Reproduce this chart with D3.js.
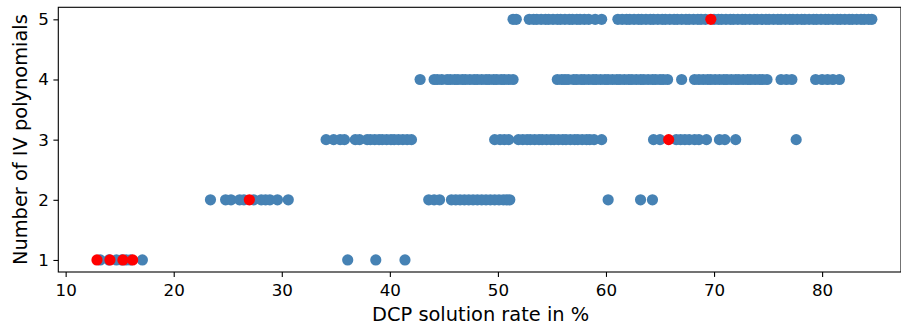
<!DOCTYPE html>
<html>
<head>
<meta charset="utf-8">
<script src="https://cdn.jsdelivr.net/npm/d3@7"></script>
<style>
  body { margin: 0; background: #fff; }
  text { font-family: "DejaVu Sans", sans-serif; fill: #000; }
</style>
</head>
<body>
<div id="chart"></div>
<script>
// DCP solution rate (%) per number of IV polynomials
var rates1 = [13.2, 14.0, 14.7, 15.2, 15.6, 16.0, 17.1, 36.1, 38.7, 41.4];
var rates2 = [23.4, 24.8, 25.3, 26.1, 26.5, 27.4, 28.1, 28.5, 28.9, 29.6, 30.6,
  43.6, 44.1, 44.6, 45.7, 46.1, 46.5, 46.9, 47.3, 47.7, 48.1, 48.5, 48.9, 49.3, 49.7, 50.1, 50.5, 50.8, 51.1,
  60.2, 63.2, 64.3];
var rates3 = [34.1, 34.8, 35.4, 35.8, 36.8, 37.2, 37.9, 38.2, 38.6, 39.0, 39.3, 39.7, 40.1, 40.4, 40.8, 41.2, 41.6, 42.0,
  49.7, 50.2, 50.6, 51.0, 51.9, 52.3, 52.7, 53.0, 53.4, 53.8, 54.1, 54.5, 54.9, 55.2, 55.6, 56.0, 56.3, 56.7,
  57.1, 57.4, 57.8, 58.2, 58.5, 58.9, 59.6,
  64.4, 65.0, 66.5, 66.9, 67.3, 67.7, 68.2, 68.6, 69.3, 70.5, 71.0, 72.0, 77.6];
var rates4 = [42.8, 44.1, 44.4, 44.8, 45.3, 45.6, 46.0, 46.3, 46.7, 47.0, 47.4, 47.8, 48.1, 48.5, 48.9, 49.2, 49.6,
  49.9, 50.3, 50.6, 51.0, 51.4,
  55.5, 55.9, 56.2, 56.5, 57.0, 57.3, 57.7, 58.0, 58.4, 58.8, 59.1, 59.5, 59.9, 60.2, 60.6, 61.0, 61.3, 61.7,
  62.1, 62.4, 62.8, 63.2, 63.5, 63.9, 64.3, 64.6, 65.0, 65.3, 65.7, 67.0,
  68.2, 68.6, 69.0, 69.4, 69.7, 70.1, 70.5, 70.9, 71.2, 71.6, 72.0, 72.3, 72.7, 73.1, 73.4, 73.8, 74.2, 74.5, 74.9,
  76.2, 76.7, 77.2, 79.4, 80.0, 80.5, 81.0, 81.6];
var rates5 = [51.4, 51.7, 52.9, 53.3, 53.6, 54.0, 54.4, 54.7, 55.1, 55.5, 55.8, 56.2, 56.6, 56.9, 57.3, 57.6, 58.0,
  58.4, 59.0, 59.6,
  61.1, 61.5, 61.9, 62.2, 62.6, 63.0, 63.3, 63.7, 64.1, 64.4, 64.8, 65.2, 65.5, 65.9, 66.3, 66.6, 67.0, 67.4,
  67.7, 68.1, 68.5, 68.8, 69.2, 70.0, 70.4, 70.7, 71.1, 71.5, 71.8, 72.2, 72.6, 72.9, 73.3, 73.7, 74.0, 74.4,
  74.8, 75.1, 75.5, 75.9, 76.2, 76.6, 77.0, 77.3, 77.7, 78.1, 78.4, 78.8, 79.2, 79.5, 79.9, 80.3, 80.6, 81.0,
  81.4, 81.7, 82.1, 82.5, 82.8, 83.2, 83.6, 83.9, 84.3, 84.6];

// highlighted points (red)
var redRates = [12.9, 14.1, 15.3, 16.2, 27.0, 65.8, 69.7];
var redCounts = [1, 1, 1, 1, 2, 3, 5];

var xTicks = [10, 20, 30, 40, 50, 60, 70, 80];
var yTicks = [1, 2, 3, 4, 5];

var svgWidth = 901;
var svgHeight = 327;

var margin = { top: 7.3, right: 0, bottom: 55, left: 58.3 };
var width = svgWidth - margin.left - margin.right;
var height = svgHeight - margin.top - margin.bottom;

var svg = d3.select("#chart")
  .append("svg")
  .attr("width", svgWidth)
  .attr("height", svgHeight);

var chartGroup = svg.append("g")
  .attr("transform", `translate(${margin.left}, ${margin.top})`);

var xScale = d3.scaleLinear().domain([9.32, 87.3]).range([0, width]);
var yScale = d3.scaleLinear().domain([0.8, 5.2]).range([height, 0]);

// blue points from the rows
var bluePoints = [];
[rates1, rates2, rates3, rates4, rates5].forEach(function(row, i) {
  row.forEach(function(r) { bluePoints.push({ x: r, y: i + 1 }); });
});
var redPoints = redRates.map(function(r, i) { return { x: r, y: redCounts[i] }; });

chartGroup.selectAll(".blue")
  .data(bluePoints)
  .enter()
  .append("circle")
  .attr("class", "blue")
  .attr("cx", d => xScale(d.x))
  .attr("cy", d => yScale(d.y))
  .attr("r", 5.6)
  .attr("fill", "#4682b4");

chartGroup.selectAll(".red")
  .data(redPoints)
  .enter()
  .append("circle")
  .attr("class", "red")
  .attr("cx", d => xScale(d.x))
  .attr("cy", d => yScale(d.y))
  .attr("r", 5.6)
  .attr("fill", "#ff0000");

// axes
var bottomAxis = d3.axisBottom(xScale).tickValues(xTicks).tickSize(4.9).tickPadding(4.5).tickFormat(d3.format("d"));
var leftAxis = d3.axisLeft(yScale).tickValues(yTicks).tickSize(4.9).tickPadding(4.5).tickFormat(d3.format("d"));

var xAxis = chartGroup.append("g")
  .attr("transform", `translate(0, ${height})`)
  .call(bottomAxis);
var yAxis = chartGroup.append("g")
  .call(leftAxis);

[xAxis, yAxis].forEach(function(ax) {
  ax.select(".domain").remove();
  ax.selectAll(".tick line").attr("stroke", "#000").attr("stroke-width", 1.1);
  ax.selectAll(".tick text")
    .style("font-family", "DejaVu Sans")
    .style("font-size", "16.7px")
    .attr("fill", "#000");
});
xAxis.selectAll(".tick text").attr("dy", null).attr("y", 0).attr("transform", "translate(0, 24)");

// frame
chartGroup.append("rect")
  .attr("x", 0)
  .attr("y", 0)
  .attr("width", width)
  .attr("height", height)
  .attr("fill", "none")
  .attr("stroke", "#000")
  .attr("stroke-width", 1.1);

// labels
svg.append("text")
  .attr("x", margin.left + xScale(48.4))
  .attr("y", 320.7)
  .attr("text-anchor", "middle")
  .style("font-size", "19.4px")
  .text("DCP solution rate in %");

svg.append("text")
  .attr("transform", `translate(26.5, ${margin.top + height / 2}) rotate(-90)`)
  .attr("text-anchor", "middle")
  .style("font-size", "19.4px")
  .text("Number of IV polynomials");
</script>
</body>
</html>
